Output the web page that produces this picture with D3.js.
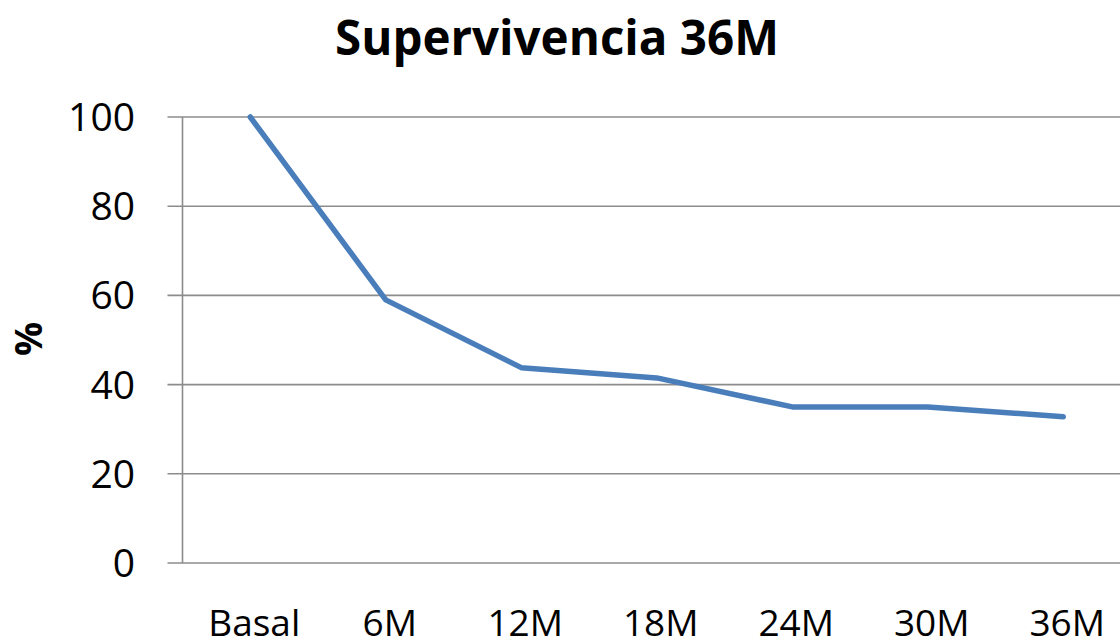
<!DOCTYPE html>
<html>
<head>
<meta charset="utf-8">
<script src="https://cdn.jsdelivr.net/npm/d3@7"></script>
<style>
html,body{margin:0;padding:0;background:#fff;}
svg{display:block;}
text{font-family:"Open Sans",sans-serif;fill:#000;}
</style>
</head>
<body>
<svg id="chart" width="1120" height="641"></svg>
<script>
const categories = ["Basal", "6M", "12M", "18M", "24M", "30M", "36M"];
const survival = [100, 59.0, 43.8, 41.5, 35.0, 35.0, 32.8];
const yTicks = [0, 20, 40, 60, 80, 100];
const title = "Supervivencia 36M";
const yLabel = "%";

const svg = d3.select("#chart");
const plotLeft = 182.5, plotRight = 1131, plotTop = 117, plotBottom = 563;

const x = d3.scaleBand().domain(categories).range([plotLeft, plotRight]).paddingInner(0).paddingOuter(0);
const y = d3.scaleLinear().domain([0, 100]).range([plotBottom, plotTop]);

// gridlines
svg.append("g").selectAll("line").data(yTicks).join("line")
  .attr("x1", plotLeft - 15).attr("x2", plotRight)
  .attr("y1", d => y(d)).attr("y2", d => y(d))
  .attr("stroke", "#8c8c8c").attr("stroke-width", 1.6);

// y axis line
svg.append("line")
  .attr("x1", plotLeft).attr("x2", plotLeft)
  .attr("y1", plotTop).attr("y2", plotBottom)
  .attr("stroke", "#8c8c8c").attr("stroke-width", 1.6);

// y tick labels
svg.append("g").selectAll("text").data(yTicks).join("text")
  .attr("x", 135).attr("y", d => y(d))
  .attr("dy", "0.36em")
  .attr("text-anchor", "end")
  .style("font-size", "39px")
  .text(d => d);

// x tick labels
svg.append("g").selectAll("text").data(categories).join("text")
  .attr("x", d => x(d) + x.bandwidth() / 2 + 4)
  .attr("y", 636)
  .attr("text-anchor", "middle")
  .style("font-size", "37px")
  .text(d => d);

// line
const line = d3.line()
  .x((d, i) => x(categories[i]) + x.bandwidth() / 2)
  .y(d => y(d));
svg.append("path")
  .datum(survival)
  .attr("d", line)
  .attr("fill", "none")
  .attr("stroke", "#4a7ebb")
  .attr("stroke-width", 5.5)
  .attr("stroke-linejoin", "round")
  .attr("stroke-linecap", "round");

// title
svg.append("text")
  .attr("x", 557).attr("y", 55)
  .attr("text-anchor", "middle")
  .style("font-size", "47.5px").style("font-weight", "bold")
  .text(title);

// y label
svg.append("text")
  .attr("transform", "translate(42,339) rotate(-90)")
  .attr("text-anchor", "middle")
  .style("font-size", "38px").style("font-weight", "bold")
  .text(yLabel);
</script>
</body>
</html>
